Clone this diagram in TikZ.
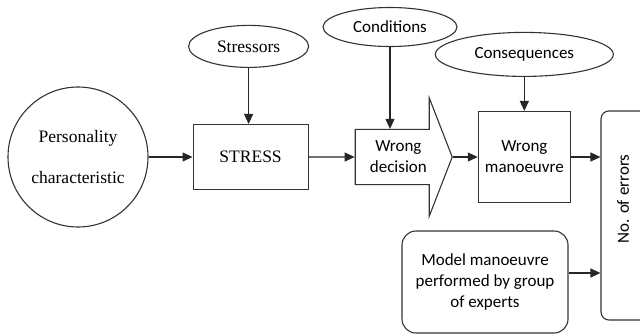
\documentclass[tikz,border=0pt]{standalone}
\usepackage{fontspec}
\setmainfont{Carlito}
\newfontfamily\timesfont{Liberation Serif}
\usetikzlibrary{positioning,shapes.geometric,shapes.arrows,arrows.meta}

\begin{document}
\begin{tikzpicture}[x=1pt,y=1pt]
\tikzstyle{main}=[circle, minimum size=140pt, draw=black!80, line width=1.1pt, inner sep=0pt, align=center, font=\timesfont\fontsize{17.5}{41}\selectfont]
\tikzstyle{oval}=[ellipse, draw=black!80, line width=1.1pt, inner sep=0pt, font=\fontsize{17}{21}\selectfont]
\tikzstyle{box}=[rectangle, draw=black!80, line width=1.1pt, align=center, inner sep=0pt, font=\fontsize{17}{21}\selectfont]
\tikzstyle{roundbox}=[box, rounded corners=12pt]
\tikzstyle{serif}=[font=\timesfont\fontsize{17.5}{21}\selectfont]
\tikzstyle{connect}=[-{Triangle[length=10pt,width=9pt]}, line width=1.1pt, black!85]
  \useasboundingbox (0,0) rectangle (640,-335);
  \clip (0,0) rectangle (640,-335);
  \node[main] (pers) at (78,-157) {Personality\\characteristic};
  \node[box, serif, minimum width=115pt, minimum height=65pt] (stress) [right=44pt of pers] {STRESS};
  \node[oval, serif, minimum width=120pt, minimum height=42pt] (stressors) [above=56pt of stress, xshift=-2pt] {Stressors};
  \node[single arrow, draw=black!80, line width=1.1pt, align=center, inner xsep=0pt, inner ysep=11pt, font=\fontsize{17}{21}\selectfont,
        minimum height=97pt, single arrow head extend=31.5pt, single arrow tip angle=137.6] (dec) [right=46pt of stress] {Wrong\\decision};
  \node[oval, minimum width=134pt, minimum height=39pt] (cond) at (390,-27) {Conditions};
  \node[box, minimum width=92pt, minimum height=91pt] (man) [right=25pt of dec] {Wrong\\manoeuvre};
  \node[oval, minimum width=178pt, minimum height=44pt] (cons) [above=34pt of man] {Consequences};
  \node[roundbox, minimum width=166pt, minimum height=102pt, rounded corners=14pt] (model) at (485,-282) {Model manoeuvre\\performed by group\\of experts};
  \node[roundbox, minimum width=48pt, minimum height=209pt, rounded corners=8pt] (err) at (625,-215.5) {};
  \node[rotate=90, font=\fontsize{17}{21}\selectfont] (errlabel) at (623,-199) {No. of errors};
  \draw[connect] (pers) -- (stress);
  \draw[connect] (stressors.south) -- (stressors.south |- stress.north);
  \draw[connect] (cond.south) -- (cond.south |- dec.north);
  \draw[connect] (stress) -- (dec);
  \draw[connect] (dec.east) -- (man.west);
  \draw[connect] (cons.south) -- (cons.south |- man.north);
  \draw[connect] (man.east) -- (man.east -| err.west);
  \draw[connect] ([yshift=9pt]model.east) -- ([yshift=9pt]model.east -| err.west);
\end{tikzpicture}
\end{document}
